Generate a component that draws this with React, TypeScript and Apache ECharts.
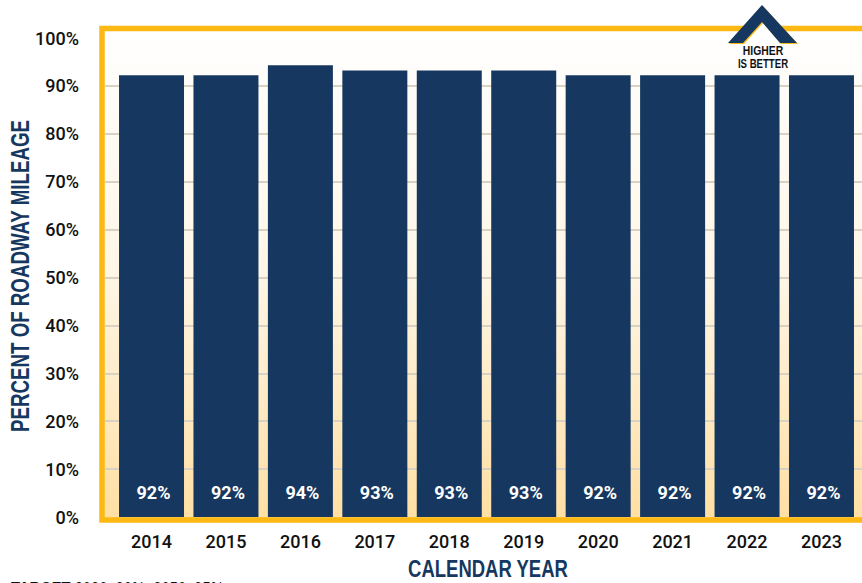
import React, { useEffect, useRef } from "react";
import * as echarts from "echarts";

const categories = ["2014", "2015", "2016", "2017", "2018", "2019", "2020", "2021", "2022", "2023"];
const values = [92.2, 92.2, 94.3, 93.2, 93.2, 93.2, 92.2, 92.2, 92.2, 92.2];
const barLabels = ["92%", "92%", "94%", "93%", "93%", "93%", "92%", "92%", "92%", "92%"];
const yTitle = "PERCENT OF ROADWAY MILEAGE";
const xTitle = "CALENDAR YEAR";

const NAVY = "#163860";
const GOLD = "#FDB913";
const FONT = 'Roboto, "Liberation Sans", sans-serif';
const TITLE_FONT = '"Liberation Sans", sans-serif';

echarts.graphic.registerShape(
  "higherArrow",
  echarts.graphic.extendPath("M34 0L69 38L52 38L34 17L15 38L0 38Z", {}) as any
);

export default function App() {
  const ref = useRef<HTMLDivElement>(null);
  useEffect(() => {
    const chart = echarts.init(ref.current!, undefined, { renderer: "svg" });
    chart.setOption({
      animation: false,
      backgroundColor: "#ffffff",
      textStyle: { fontFamily: FONT },
      grid: [
        { left: 105, top: 38, width: 757, height: 479, containLabel: false },
        { left: 114.3, top: 38, width: 744.4, height: 479, containLabel: false },
      ],
      xAxis: [
        { gridIndex: 0, type: "value", min: 0, max: 1, show: false },
        {
          gridIndex: 1,
          type: "category",
          data: categories,
          axisLine: { show: false },
          axisTick: { show: false },
          axisLabel: { color: "#111111", fontSize: 18, fontWeight: 500, fontFamily: FONT, margin: 15 },
        },
      ],
      yAxis: [
        {
          gridIndex: 0,
          type: "value",
          min: 0,
          max: 100,
          interval: 10,
          axisLine: { show: false },
          axisTick: { show: false },
          axisLabel: { color: "#111111", fontSize: 18, fontWeight: 500, fontFamily: FONT, formatter: "{value}%", margin: 26, padding: [0, 0, 2, 0] },
          splitLine: { show: true, showMaxLine: false, showMinLine: false, lineStyle: { color: "#D9D2C3", width: 2 } },
        },
        { gridIndex: 1, type: "value", min: 0, max: 100, show: false },
      ],
      series: [
        {
          type: "bar",
          xAxisIndex: 1,
          yAxisIndex: 1,
          data: values,
          barWidth: 65,
          z: 3,
          itemStyle: { color: NAVY },
          label: {
            show: true,
            position: "insideBottom",
            distance: 16,
            offset: [2, 0],
            color: "#ffffff",
            fontSize: 18,
            fontWeight: "bold",
            fontFamily: FONT,
            formatter: (p: any) => barLabels[p.dataIndex],
          },
        },
      ],
      graphic: [
        {
          type: "rect",
          z: -1,
          silent: true,
          shape: { x: 102, y: 28, width: 800, height: 492 },
          style: {
            fill: new echarts.graphic.LinearGradient(0, 0, 0, 1, [
              { offset: 0, color: "#FFFFFF" },
              { offset: 0.5, color: "#FFF6E6" },
              { offset: 1, color: "#FFDFA3" },
            ]),
          },
        },
        {
          type: "rect",
          z: 5,
          silent: true,
          shape: { x: 102, y: 28.5, width: 800, height: 491.5 },
          style: { fill: "none", stroke: GOLD, lineWidth: 5.5 },
        },
        { type: "polygon", z: 6, silent: true, shape: { points: [[762, 18], [782, 43], [742, 43]] }, style: { fill: "#ffffff" } },
        { type: "higherArrow", z: 6, silent: true, x: 729, y: 6, style: { fill: GOLD } },
        { type: "higherArrow", z: 7, silent: true, x: 728, y: 5, style: { fill: NAVY } },
        {
          type: "text", z: 8, silent: true, x: 763, y: 50, scaleX: 0.8,
          style: { text: "HIGHER", fill: "#111111", font: `bold 13px ${TITLE_FONT}`, textAlign: "center", textVerticalAlign: "middle" },
        },
        {
          type: "text", z: 8, silent: true, x: 763, y: 63.5, scaleX: 0.74,
          style: { text: "IS BETTER", fill: "#111111", font: `bold 13px ${TITLE_FONT}`, textAlign: "center", textVerticalAlign: "middle" },
        },
        {
          type: "text", z: 8, silent: true, x: 20, y: 276, rotation: Math.PI / 2, scaleX: 0.72,
          style: { text: yTitle, fill: NAVY, font: `bold 26px ${TITLE_FONT}`, textAlign: "center", textVerticalAlign: "middle" },
        },
        {
          type: "text", z: 8, silent: true, x: 488, y: 569, scaleX: 0.77,
          style: { text: xTitle, fill: NAVY, font: `bold 24px ${TITLE_FONT}`, textAlign: "center", textVerticalAlign: "middle" },
        },
        {
          type: "text", z: 8, silent: true, x: 11, y: 588, scaleX: 0.82,
          style: {
            text: "{b|TARGET} 2030: 90%, 2050: 95%",
            fill: "#111111",
            font: `18px ${TITLE_FONT}`,
            textVerticalAlign: "middle",
            rich: { b: { fontWeight: "bold", fontSize: 18, fontFamily: TITLE_FONT, fill: "#111111" } },
          },
        },
      ],
    });
    return () => chart.dispose();
  }, []);
  return <div ref={ref} style={{ position: "absolute", left: 0, top: 0, width: 862, height: 583 }} />;
}
